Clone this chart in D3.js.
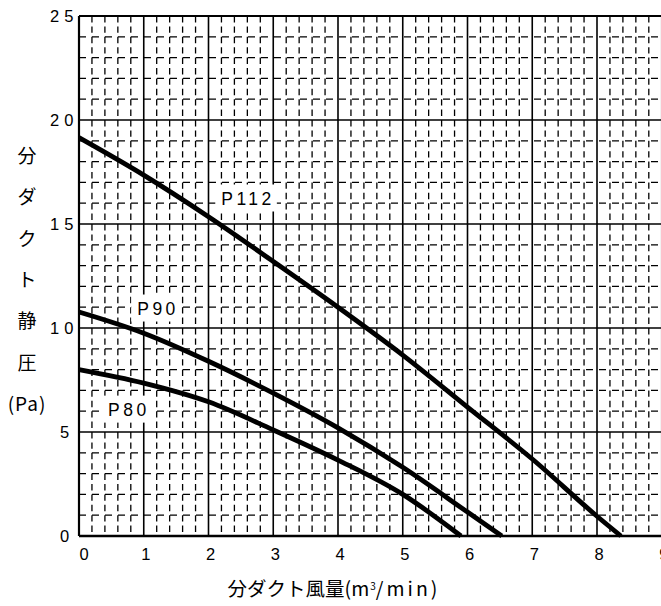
<!DOCTYPE html>
<html>
<head>
<meta charset="utf-8">
<script src="https://cdn.jsdelivr.net/npm/d3@7"></script>
<style>
  body { margin: 0; background: #fff; }
  svg { display: block; }
</style>
</head>
<body>
<div id="chart-area"></div>
<script>
// size of the page
width = 661;
height = 606

// curve data (x: 風量 m3/min, y: 静圧 Pa)
let p112X = [0, 1, 2, 3, 4, 5, 6, 7, 8, 8.37]
let p112Y = [19.15, 17.35, 15.35, 13.2, 11.0, 8.7, 6.2, 3.7, 0.95, 0]

let p90X = [0, 1, 2, 3, 4, 5, 6, 6.53]
let p90Y = [10.77, 9.75, 8.4, 6.87, 5.2, 3.3, 1.15, 0]

let p80X = [0, 1, 2, 3, 4, 5, 5.9]
let p80Y = [8.0, 7.35, 6.45, 5.1, 3.65, 2.0, 0]

let seriesNames = ["P112", "P90", "P80"]
// where each curve label sits (data units)
let labelX = [2.58, 1.19, 0.74]
let labelY = [16.25, 10.96, 6.1]

let xTicks = [0, 1, 2, 3, 4, 5, 6, 7, 8, 9]
let yTicks = [0, 5, 10, 15, 20, 25]
let yTitle = ["分", "ダ", "ク", "ト", "静", "圧", "(Pa)"]

// scales
let xScale = d3.scaleLinear().domain([0, 9]).range([79, 661.75])
let yScale = d3.scaleLinear().domain([0, 25]).range([536, 16])

let svg = d3.select("#chart-area")
  .append("svg")
  .attr("width", width)
  .attr("height", height)

let grid = svg.append("g").attr("class", "grid")

// minor vertical dashed lines every 0.2
let minorX = d3.range(0, 9.001, 0.2).filter(v => Math.abs(v - Math.round(v)) > 0.01)
grid.selectAll(".vminor")
  .data(minorX)
  .enter().append("line")
  .attr("x1", d => xScale(d)).attr("x2", d => xScale(d))
  .attr("y1", yScale(25)).attr("y2", yScale(0))
  .attr("stroke", "black")
  .attr("stroke-width", 1.3)
  .attr("stroke-dasharray", "6.4,4")

// minor horizontal dashed lines every 1
let minorY = d3.range(1, 25).filter(v => v % 5 != 0)
grid.selectAll(".hminor")
  .data(minorY)
  .enter().append("line")
  .attr("x1", xScale(0)).attr("x2", xScale(9))
  .attr("y1", d => yScale(d)).attr("y2", d => yScale(d))
  .attr("stroke", "black")
  .attr("stroke-width", 1.3)
  .attr("stroke-dasharray", "7,6")

// major solid lines
grid.selectAll(".vmajor")
  .data(xTicks)
  .enter().append("line")
  .attr("x1", d => xScale(d)).attr("x2", d => xScale(d))
  .attr("y1", yScale(25)).attr("y2", yScale(0))
  .attr("stroke", "black")
  .attr("stroke-width", d => d == 0 ? 2.2 : 1.6)

grid.selectAll(".hmajor")
  .data(yTicks)
  .enter().append("line")
  .attr("x1", xScale(0)).attr("x2", xScale(9))
  .attr("y1", d => yScale(d)).attr("y2", d => yScale(d))
  .attr("stroke", "black")
  .attr("stroke-width", d => d == 0 ? 2.6 : (d == 25 ? 2 : 1.6))

// curves
let curves = [
  p112X.map((x, i) => [x, p112Y[i]]),
  p90X.map((x, i) => [x, p90Y[i]]),
  p80X.map((x, i) => [x, p80Y[i]])
]

let line = d3.line()
  .x(d => xScale(d[0]))
  .y(d => yScale(d[1]))
  .curve(d3.curveMonotoneX)

svg.selectAll(".curve")
  .data(curves)
  .enter().append("path")
  .attr("d", line)
  .attr("fill", "none")
  .attr("stroke", "black")
  .attr("stroke-width", 4.8)

// curve labels on white boxes
seriesNames.forEach((name, i) => {
  let g = svg.append("g")
  let t = g.append("text")
    .attr("x", xScale(labelX[i]) + 2)
    .attr("y", yScale(labelY[i]) + 6.5)
    .attr("text-anchor", "middle")
    .attr("font-family", "Liberation Sans, Arial, sans-serif")
    .attr("font-size", 17.5)
    .attr("letter-spacing", 3.5)
    .text(name)
  let bb = t.node().getBBox()
  g.insert("rect", "text")
    .attr("x", bb.x - 6)
    .attr("y", bb.y - 4)
    .attr("width", bb.width + 8)
    .attr("height", bb.height + 7)
    .attr("fill", "white")
})

// y tick labels
svg.selectAll(".ylab")
  .data(yTicks)
  .enter().append("text")
  .attr("x", d => d >= 10 ? 50 : 60)
  .attr("y", d => yScale(d) + 6)
  .attr("font-family", "Liberation Sans, Arial, sans-serif")
  .attr("font-size", 16.5)
  .attr("letter-spacing", 5)
  .text(d => d)

// x tick labels
svg.selectAll(".xlab")
  .data(xTicks)
  .enter().append("text")
  .attr("x", d => xScale(d) + (d == 0 ? 5 : 2))
  .attr("y", 560)
  .attr("text-anchor", "middle")
  .attr("font-family", "Liberation Sans, Arial, sans-serif")
  .attr("font-size", 16.5)
  .text(d => d)

// y axis title, one character per row
svg.selectAll(".ytitle")
  .data(yTitle)
  .enter().append("text")
  .attr("x", 27)
  .attr("y", (d, i) => 163 + i * 41.3)
  .attr("text-anchor", "middle")
  .attr("font-family", "Noto Sans CJK JP, Liberation Sans, sans-serif")
  .attr("font-size", 19)
  .attr("letter-spacing", d => d.length > 1 ? 1 : 0)
  .text(d => d)

// x axis title
let xt = svg.append("text")
  .attr("x", 334)
  .attr("y", 596)
  .attr("text-anchor", "middle")
  .attr("font-family", "Noto Sans CJK JP, Liberation Sans, sans-serif")
  .attr("font-size", 19.5)
xt.append("tspan").text("分ダクト風量(m")
xt.append("tspan").attr("font-size", 10).attr("dy", -6).attr("dx", 1).text("3")
xt.append("tspan").attr("dy", 6).attr("letter-spacing", 3).text("/min)")
</script>
</body>
</html>
